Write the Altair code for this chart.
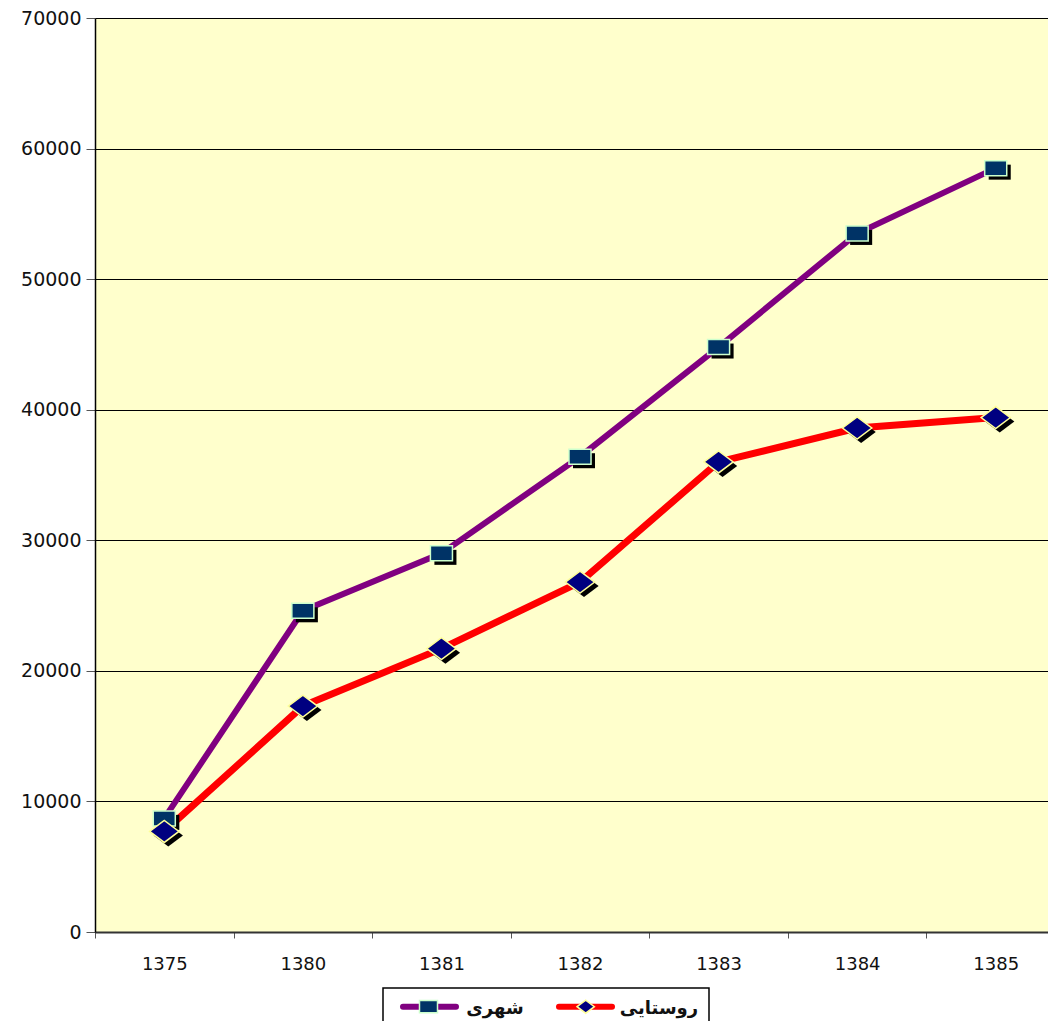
import altair as alt
import pandas as pd

years = ["1375", "1380", "1381", "1382", "1383", "1384", "1385"]
urban = [8700, 24600, 29000, 36400, 44800, 53500, 58500]
rural = [7700, 17300, 21700, 26800, 36000, 38600, 39400]
series_names = ["شهری", "روستایی"]
y_ticks = [0, 10000, 20000, 30000, 40000, 50000, 60000, 70000]

df_u = pd.DataFrame({"year": years, "value": urban})
df_r = pd.DataFrame({"year": years, "value": rural})

PURPLE = "#800080"
RED = "#FF0000"
SQ_FILL = "#003366"
SQ_STROKE = "#CCFFCC"
DI_FILL = "#000080"
DI_STROKE = "#FFFF99"
RECT_PATH = "M-1.47,-1H1.47V1H-1.47Z"
DIAM_PATH = "M-1.33,0L0,-1L1.33,0L0,1Z"

FONT = "DejaVu Sans"

x_enc = alt.X(
    "year:O",
    bandPosition=0.5,
    scale=alt.Scale(type="band", range=[0, 970], paddingInner=0, paddingOuter=0),
    axis=alt.Axis(
        title=None, labelAngle=0, tickBand="extent", tickSize=6,
        tickColor="#555555", domainColor="#333333", domainWidth=2,
        labelFontSize=18, labelFont=FONT, labelColor="#111111",
        labelPadding=17, grid=False,
    ),
)
y_enc = alt.Y(
    "value:Q",
    scale=alt.Scale(domain=[0, 70000], nice=False),
    axis=alt.Axis(
        title=None, values=y_ticks, format="d", tickSize=9,
        tickColor="#555555", domainColor="#000000", domainWidth=1.5,
        labelFontSize=19, labelFont=FONT, labelColor="#111111",
        labelPadding=5, grid=True, gridColor="#000000", gridWidth=1,
    ),
)

line_u = alt.Chart(df_u).mark_line(color=PURPLE, strokeWidth=6).encode(x=x_enc, y=y_enc)
line_r = alt.Chart(df_r).mark_line(color=RED, strokeWidth=7).encode(x=x_enc, y=y_enc)

sh_u = alt.Chart(df_u).mark_point(
    shape=RECT_PATH, size=225, filled=True, fill="black", opacity=1,
    xOffset=4, yOffset=4, strokeWidth=0,
).encode(x=x_enc, y=y_enc)
sh_r = alt.Chart(df_r).mark_point(
    shape=DIAM_PATH, size=484, filled=True, fill="black", opacity=1,
    xOffset=4, yOffset=4, strokeWidth=0,
).encode(x=x_enc, y=y_enc)

pt_u = alt.Chart(df_u).mark_point(
    shape=RECT_PATH, size=225, filled=True, fill=SQ_FILL, opacity=1,
    stroke=SQ_STROKE, strokeWidth=1.5,
).encode(x=x_enc, y=y_enc)
pt_r = alt.Chart(df_r).mark_point(
    shape=DIAM_PATH, size=484, filled=True, fill=DI_FILL, opacity=1,
    stroke=DI_STROKE, strokeWidth=1.5,
).encode(x=x_enc, y=y_enc)

# legend (drawn below the plot area)
leg_df = pd.DataFrame({"k": [0]})
leg_box = alt.Chart(leg_df).mark_rect(
    fill="white", stroke="black", strokeWidth=1.5
).encode(x=alt.value(288), x2=alt.value(614), y=alt.value(970), y2=alt.value(1040))
leg_line_u = alt.Chart(leg_df).mark_rule(color=PURPLE, strokeWidth=6, strokeCap="round").encode(
    x=alt.value(308), x2=alt.value(361), y=alt.value(988.7))
leg_pt_u = alt.Chart(leg_df).mark_point(
    shape=RECT_PATH, size=150, filled=True, fill=SQ_FILL, opacity=1,
    stroke=SQ_STROKE, strokeWidth=1.5).encode(x=alt.value(333.5), y=alt.value(988.7))
leg_txt_u = alt.Chart(leg_df).mark_text(
    text=series_names[0], font=FONT, fontSize=18, fontWeight="bold",
    align="center", baseline="middle", color="#111111").encode(x=alt.value(400), y=alt.value(991))
leg_line_r = alt.Chart(leg_df).mark_rule(color=RED, strokeWidth=6, strokeCap="round").encode(
    x=alt.value(464), x2=alt.value(517), y=alt.value(988.7))
leg_pt_r = alt.Chart(leg_df).mark_point(
    shape=DIAM_PATH, size=169, filled=True, fill=DI_FILL, opacity=1,
    stroke=DI_STROKE, strokeWidth=1.5).encode(x=alt.value(490.7), y=alt.value(988.7))
leg_txt_r = alt.Chart(leg_df).mark_text(
    text=series_names[1], font=FONT, fontSize=18, fontWeight="bold",
    align="center", baseline="middle", color="#111111").encode(x=alt.value(564), y=alt.value(991))

chart = alt.layer(
    line_u, line_r, sh_u, sh_r, pt_u, pt_r,
    leg_box, leg_line_u, leg_pt_u, leg_txt_u, leg_line_r, leg_pt_r, leg_txt_r,
).properties(
    width=953, height=914,
    autosize=alt.AutoSizeParams(type="none"),
    padding={"left": 87, "top": 10, "right": 0, "bottom": 89},
).configure_view(stroke=None, fill="#FFFFCC")

chart.save("out.html", embed_options={"renderer": "svg", "actions": False})
